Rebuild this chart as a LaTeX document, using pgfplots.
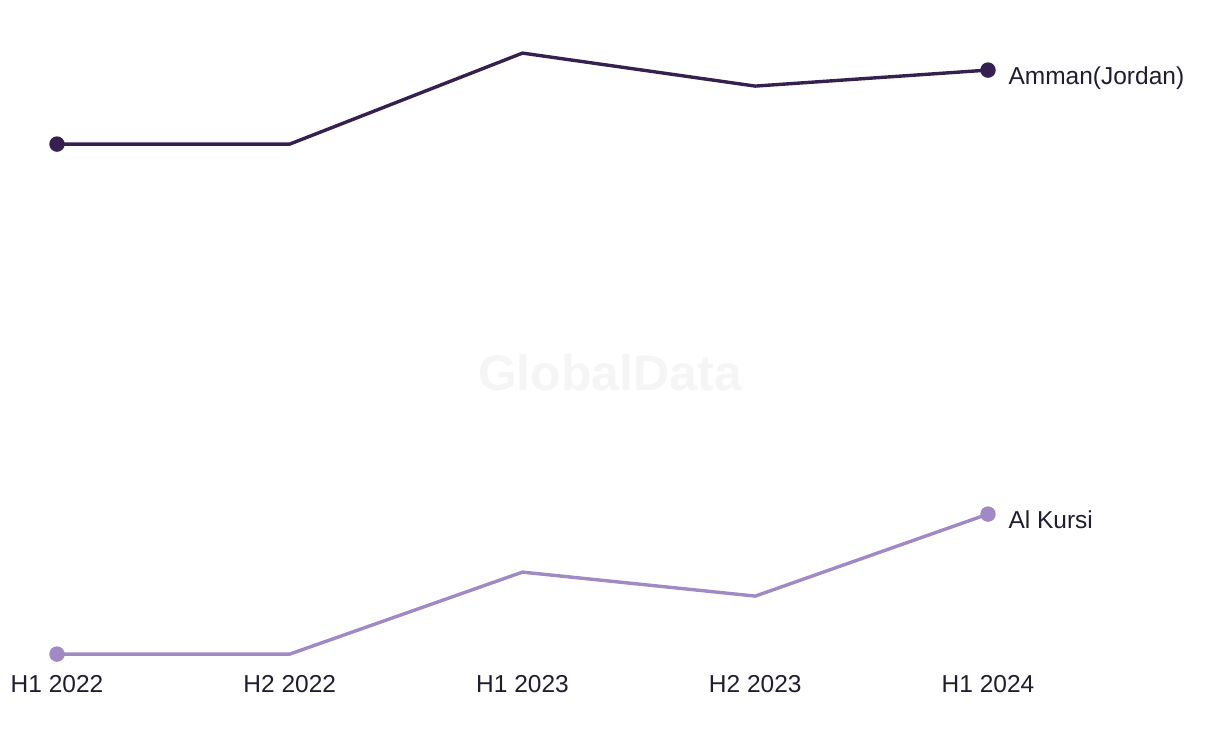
\documentclass[border=0pt]{standalone}
\usepackage{pgfplots}
\pgfplotsset{compat=1.18}
\usepackage{fontspec}
\setmainfont{Liberation Sans}
\definecolor{darkp}{HTML}{35204F}
\definecolor{lightp}{HTML}{A089C4}
\definecolor{txt}{HTML}{1E1E2E}
\definecolor{wm}{HTML}{F5F5F5}
\begin{document}
\begin{tikzpicture}
\begin{axis}[
  name=ax,
  scale only axis,
  width=931pt, height=668pt,
  xmin=0, xmax=4, ymin=76, ymax=744,
  axis line style={draw=none},
  ytick=\empty,
  xtick={0,1,2,3,4},
  xticklabels={H1 2022,H2 2022,H1 2023,H2 2023,H1 2024},
  major tick length=0pt,
  xticklabel style={font=\fontsize{24.5}{28}\selectfont, text=txt, yshift=-4pt},
  clip=false,
]
\node[font=\fontsize{50}{56}\selectfont\bfseries, text=wm] at (axis cs:2.376,371) {GlobalData};
\addplot[darkp, line width=3.4pt, mark=*, mark indices={1,5}, mark size=6pt, mark options={solid}] coordinates {(0,600) (1,600) (2,691) (3,658) (4,674)};
\addplot[lightp, line width=3.4pt, mark=*, mark indices={1,5}, mark size=6pt, mark options={solid}] coordinates {(0,90) (1,90) (2,172) (3,148) (4,230)};
\node[anchor=west, font=\fontsize{24.5}{28}\selectfont, text=txt] at ([xshift=17pt]axis cs:4,666) {Amman(Jordan)};
\node[anchor=west, font=\fontsize{24.5}{28}\selectfont, text=txt] at ([xshift=17pt]axis cs:4,224) {Al Kursi};
\end{axis}
\useasboundingbox ([xshift=-57pt,yshift=-76pt]ax.south west) rectangle ++(1220pt,744pt);
\end{tikzpicture}
\end{document}
